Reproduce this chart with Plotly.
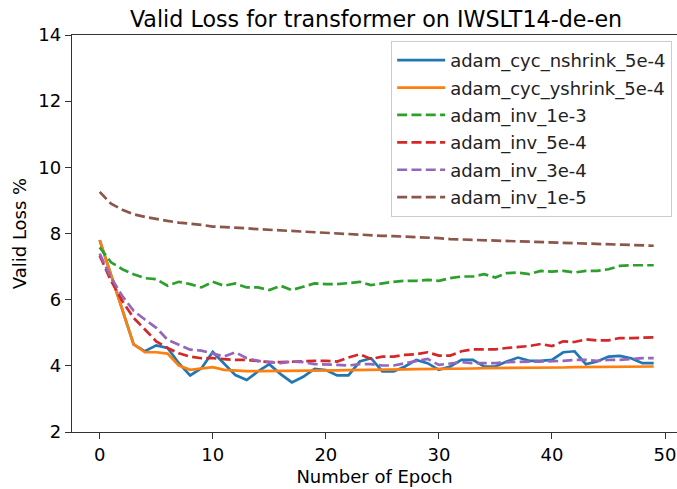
import plotly.graph_objects as go

epochs = list(range(50))

nshrink = [7.8, 6.75, 5.7, 4.65, 4.44, 4.62, 4.54, 4.08, 3.71, 3.93,
           4.42, 4.08, 3.72, 3.57, 3.83, 4.05, 3.75, 3.50, 3.67, 3.91,
           3.87, 3.71, 3.71, 4.13, 4.23, 3.83, 3.83, 3.98, 4.18, 4.08,
           3.88, 3.98, 4.18, 4.18, 3.98, 3.98, 4.13, 4.25, 4.15, 4.15,
           4.18, 4.41, 4.44, 4.05, 4.13, 4.28, 4.30, 4.23, 4.08, 4.08]
yshrink = [7.8, 6.75, 5.7, 4.65, 4.41, 4.41, 4.37, 4.01, 3.88, 3.93,
           3.96, 3.88, 3.85, 3.84, 3.84, 3.84, 3.84, 3.84, 3.85, 3.85,
           3.86, 3.86, 3.87, 3.87, 3.88, 3.88, 3.89, 3.89, 3.90, 3.90,
           3.91, 3.91, 3.92, 3.92, 3.93, 3.93, 3.93, 3.94, 3.94, 3.95,
           3.95, 3.95, 3.96, 3.96, 3.96, 3.97, 3.97, 3.97, 3.98, 3.98]
inv_1e3 = [7.58, 7.13, 6.92, 6.77, 6.65, 6.62, 6.42, 6.54, 6.47, 6.37,
           6.54, 6.42, 6.49, 6.37, 6.37, 6.29, 6.42, 6.29, 6.39, 6.49,
           6.47, 6.47, 6.50, 6.54, 6.44, 6.50, 6.54, 6.57, 6.57, 6.60,
           6.57, 6.65, 6.70, 6.70, 6.77, 6.67, 6.80, 6.82, 6.77, 6.87,
           6.85, 6.87, 6.82, 6.87, 6.87, 6.92, 7.02, 7.04, 7.04, 7.04]
inv_5e4 = [7.33, 6.57, 5.96, 5.45, 5.10, 4.74, 4.54, 4.38, 4.28, 4.23,
           4.23, 4.20, 4.18, 4.18, 4.15, 4.11, 4.11, 4.13, 4.15, 4.15,
           4.15, 4.13, 4.25, 4.35, 4.21, 4.28, 4.28, 4.33, 4.35, 4.41,
           4.31, 4.31, 4.44, 4.50, 4.50, 4.50, 4.54, 4.57, 4.60, 4.66,
           4.60, 4.74, 4.72, 4.80, 4.77, 4.77, 4.84, 4.84, 4.85, 4.86]
inv_3e4 = [7.39, 6.67, 6.11, 5.66, 5.40, 5.15, 4.79, 4.64, 4.49, 4.46,
           4.38, 4.28, 4.41, 4.23, 4.15, 4.11, 4.08, 4.13, 4.11, 4.05,
           4.05, 4.03, 4.01, 4.05, 4.05, 4.01, 4.01, 4.08, 4.13, 4.21,
           4.03, 4.08, 4.11, 4.08, 4.08, 4.08, 4.11, 4.13, 4.13, 4.13,
           4.13, 4.15, 4.18, 4.18, 4.15, 4.18, 4.18, 4.21, 4.23, 4.23]
inv_1e5 = [9.26, 8.90, 8.72, 8.58, 8.50, 8.43, 8.38, 8.33, 8.30, 8.26,
           8.21, 8.20, 8.18, 8.16, 8.13, 8.11, 8.09, 8.07, 8.05, 8.03,
           8.01, 7.99, 7.98, 7.96, 7.94, 7.93, 7.92, 7.91, 7.89, 7.88,
           7.86, 7.83, 7.82, 7.81, 7.79, 7.78, 7.77, 7.76, 7.74, 7.73,
           7.72, 7.71, 7.70, 7.69, 7.68, 7.67, 7.66, 7.65, 7.64, 7.63]

series = [
    ("adam_cyc_nshrink_5e-4", nshrink, "#1f77b4", "solid"),
    ("adam_cyc_yshrink_5e-4", yshrink, "#ff7f0e", "solid"),
    ("adam_inv_1e-3", inv_1e3, "#2ca02c", "10px,4.3px"),
    ("adam_inv_5e-4", inv_5e4, "#d62728", "10px,4.3px"),
    ("adam_inv_3e-4", inv_3e4, "#9467bd", "10px,4.3px"),
    ("adam_inv_1e-5", inv_1e5, "#8c564b", "10px,4.3px"),
]

FONT = "DejaVu Sans"
fig = go.Figure()
for i, (name, vals, color, dash) in enumerate(series):
    fig.add_trace(go.Scatter(x=epochs, y=vals, mode="lines", name=name,
                             legendgroup=f"g{i}",
                             line=dict(color=color, width=2.7, dash=dash)))

fig.update_layout(
    width=677, height=489,
    margin=dict(l=72, r=0, t=35, b=57),
    paper_bgcolor="white", plot_bgcolor="white",
    font=dict(family=FONT, size=18, color="black"),
    title=dict(text="Valid Loss for transformer on IWSLT14-de-en",
               x=0.5025, xref="paper", xanchor="center",
               y=1 - 19 / 489, yref="container", yanchor="middle",
               font=dict(family=FONT, size=22.2, color="black")),
    showlegend=True,
    legend=dict(x=0.992, y=0.985, xanchor="right", yanchor="top",
                bgcolor="rgba(255,255,255,0.8)", bordercolor="#cccccc",
                borderwidth=1, tracegroupgap=1, itemwidth=48,
                font=dict(family=FONT, size=18, color="#222222")),
)
fig.update_xaxes(range=[-2.45, 51.06], tickvals=[0, 10, 20, 30, 40, 50],
                 showline=True, linecolor="#333333", linewidth=1.4, mirror=True,
                 ticks="outside", ticklen=6, tickwidth=1.4, tickcolor="#333333",
                 showgrid=False, zeroline=False,
                 title=dict(text="Number of Epoch", standoff=6,
                            font=dict(family=FONT, size=18)))
fig.update_yaxes(range=[2, 14], tickvals=[2, 4, 6, 8, 10, 12, 14],
                 showline=True, linecolor="#333333", linewidth=1.4,
                 ticks="outside", ticklen=6, tickwidth=1.4, tickcolor="#333333",
                 showgrid=False, zeroline=False,
                 title=dict(text="Valid Loss %", standoff=6,
                            font=dict(family=FONT, size=18)))

fig.write_html("out.html")
